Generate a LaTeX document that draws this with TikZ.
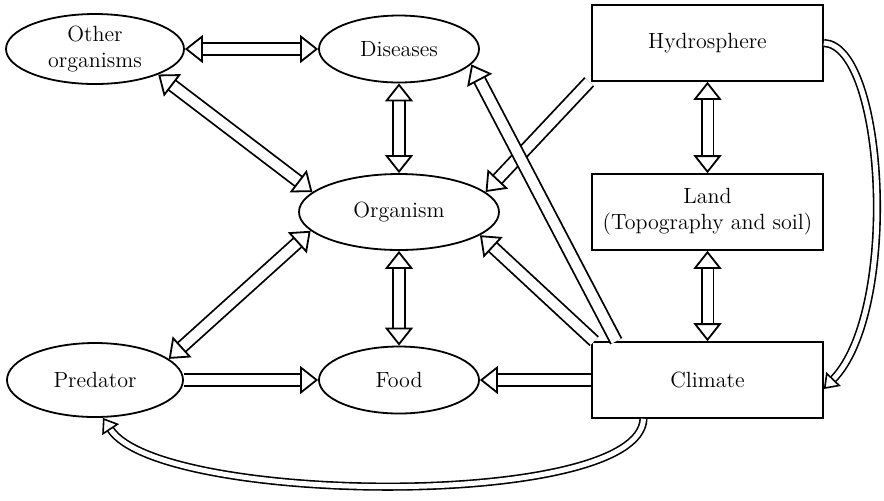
\documentclass[tikz,border=0pt]{standalone}
\usepackage{tikz}
\usetikzlibrary{positioning, arrows.meta, shapes.geometric}

\begin{document}
\begin{tikzpicture}[
    x=0.5pt, y=-0.5pt,
    % --- styles ---
    oval/.style={
            draw,
            ellipse,
            line width=0.9pt,
            align=center,
            inner sep=0pt,
            font=\fontsize{11}{13}\selectfont
        },
    box/.style={
            draw,
            rectangle,
            line width=0.8pt,
            align=center,
            minimum width=115.5pt,
            minimum height=38pt,
            font=\fontsize{11}{13}\selectfont
        },
    fat/.style={
    draw,
    line width=0.9pt,
    double=white,
    double distance=5pt,
    >={Triangle[open, length=9pt, width=14pt, fill=white]}
    },
    thin/.style={
    draw,
    line width=0.8pt,
    double=white,
    double distance=2.5pt,
    >={Triangle[open, length=7pt, width=10pt, fill=white]}
    }
    ]
    \useasboundingbox (0,0) rectangle (884,500);

    % --- nodes ---
    \node[oval, minimum width=89pt, minimum height=35pt] (other) at (95,49) {Other\\organisms};
    \node[oval, minimum width=80pt, minimum height=33.5pt] (diseases) at (399,49) {Diseases};
    \node[oval, minimum width=100pt, minimum height=38pt] (organism) at (399,212) {Organism};
    \node[oval, minimum width=88pt, minimum height=37pt] (predator) at (95,380) {Predator};
    \node[oval, minimum width=80pt, minimum height=33.5pt] (food) at (399,380) {Food};

    \node[box] (hydro) at (707.5,43) {Hydrosphere};
    \node[box] (land) at (707.5,212) {Land\\(Topography and soil)};
    \node[box] (climate) at (707.5,380) {Climate};

    % --- links ---
    \draw[fat, <->] (other.east) -- (diseases.west);
    \draw[fat, <->] (diseases.south) -- (organism.north);
    \draw[fat, <->] (other.-22) -- (organism.167);
    \draw[fat, <->] (organism.-168) -- (predator.16);
    \draw[fat, <->] (organism.south) -- (food.north);
    \draw[fat, ->] (predator.east) -- (food.west);
    \draw[fat, <->] (hydro.south) -- (land.north);
    \draw[fat, <->] (land.south) -- (climate.north);

    % climate and hydrosphere
    \draw[fat, ->] (climate.west) -- (food.east);
    \draw[fat, ->] ([xshift=-1pt]hydro.south west) -- (organism.13);
    \draw[fat, ->] ([xshift=1.5pt]climate.north west) -- (organism.-16);
    \draw[fat, ->] ([xshift=12.5pt]climate.north west) -- (diseases.-12);

    % curved links
    \draw[thin, ->] (hydro.east) .. controls (885,45) and (900,310) .. ([yshift=-4.5pt]climate.east);
    \draw[thin, ->] ([xshift=-32pt]climate.south) .. controls (640,510) and (160,505) .. ([xshift=4pt]predator.south);

\end{tikzpicture}
\end{document}
